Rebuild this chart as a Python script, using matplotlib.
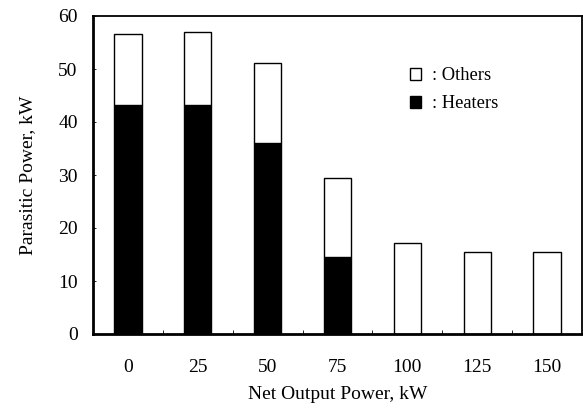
import matplotlib
matplotlib.use("Agg")
import matplotlib.pyplot as plt
from matplotlib.patches import Patch
import numpy as np

plt.rcParams["font.family"] = ["Liberation Serif", "DejaVu Serif"]
plt.rcParams["font.size"] = 14

# parasitic power breakdown per net output level
net_output = ["0", "25", "50", "75", "100", "125", "150"]
total_kw = [56.6, 56.9, 51.1, 29.4, 17.2, 15.4, 15.5]
heaters_kw = [43.3, 43.3, 36.0, 14.5, 0.0, 0.0, 0.0]
others_kw = [t - h for t, h in zip(total_kw, heaters_kw)]

fig = plt.figure(figsize=(5.83, 4.09), dpi=100)
ax = fig.add_axes([93 / 583, 1 - 334 / 409, 489 / 583, 318 / 409])

x = np.arange(len(net_output))
w = 0.39
ax.bar(x, heaters_kw, w, color="black", edgecolor="black", linewidth=1.0)
ax.bar(x, others_kw, w, bottom=heaters_kw, color="white",
       edgecolor="black", linewidth=1.0)

ax.set_xlim(-0.5, len(net_output) - 0.5)
ax.set_ylim(0, 60)
ax.set_yticks(range(0, 61, 10))
ax.set_xticks(x)
ax.set_xticklabels(net_output)
ax.set_xticks(x[:-1] + 0.5, minor=True)

ax.tick_params(axis="y", direction="in", length=2, width=0.6, pad=11)
ax.tick_params(axis="x", which="major", length=0, pad=18)
ax.tick_params(axis="x", which="minor", direction="in", length=3, width=0.6)

ax.spines["left"].set_linewidth(2.0)
ax.spines["bottom"].set_linewidth(2.0)
ax.spines["top"].set_linewidth(1.3)
ax.spines["right"].set_linewidth(1.3)

ax.set_xlabel("Net Output Power, kW", labelpad=7)
ax.set_ylabel("Parasitic Power, kW", labelpad=16)

handles = [Patch(facecolor="white", edgecolor="black", linewidth=1.0),
           Patch(facecolor="black", edgecolor="black", linewidth=1.0)]
ax.legend(handles, [": Others", ": Heaters"], frameon=False, fontsize=13.3,
          loc="upper left", bbox_to_anchor=(0.634, 0.862),
          handlelength=0.6, handleheight=0.6, handletextpad=0.55,
          labelspacing=0.6, borderaxespad=0)

fig.savefig("out.png", dpi=100)
